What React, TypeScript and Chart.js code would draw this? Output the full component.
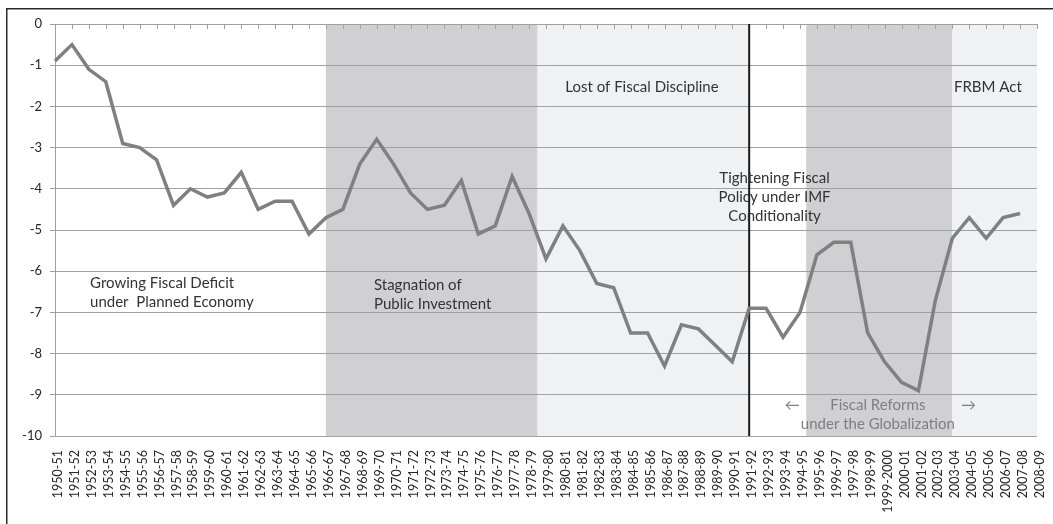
import React, { useEffect, useRef } from 'react';
import { Chart, registerables } from 'chart.js';

Chart.register(...registerables);

const categories = [
  '1950-51', '1951-52', '1952-53', '1953-54', '1954-55', '1955-56', '1956-57', '1957-58', '1958-59', '1959-60',
  '1960-61', '1961-62', '1962-63', '1963-64', '1964-65', '1965-66', '1966-67', '1967-68', '1968-69', '1969-70',
  '1970-71', '1971-72', '1972-73', '1973-74', '1974-75', '1975-76', '1976-77', '1977-78', '1978-79', '1979-80',
  '1980-81', '1981-82', '1982-83', '1983-84', '1984-85', '1985-86', '1986-87', '1987-88', '1988-89', '1989-90',
  '1990-91', '1991-92', '1992-93', '1993-94', '1994-95', '1995-96', '1996-97', '1997-98', '1998-99', '1999-2000',
  '2000-01', '2001-02', '2002-03', '2003-04', '2004-05', '2005-06', '2006-07', '2007-08', '2008-09',
];

const fiscalDeficit: (number | null)[] = [
  -0.9, -0.5, -1.1, -1.4, -2.9, -3.0, -3.3, -4.4, -4.0, -4.2,
  -4.1, -3.6, -4.5, -4.3, -4.3, -5.1, -4.7, -4.5, -3.4, -2.8,
  -3.4, -4.1, -4.5, -4.4, -3.8, -5.1, -4.9, -3.7, -4.6, -5.7,
  -4.9, -5.5, -6.3, -6.4, -7.5, -7.5, -8.3, -7.3, -7.4, -7.8,
  -8.2, -6.9, -6.9, -7.6, -7.0, -5.6, -5.3, -5.3, -7.5, -8.2,
  -8.7, -8.9, -6.7, -5.2, -4.7, -5.2, -4.7, -4.6, null,
];

const yMin = -10;
const yMax = 0;
const yStep = 1;

// Shaded periods, in category-index units
const bandStarts = [16, 28.5, 44.37, 53];
const bandEnds = [28.5, 41, 53, 58];
const bandColors = ['#d0d0d2', '#f0f1f3', '#d0d0d2', '#f0f1f3'];

const breakIndex = 41; // 1991-92

const noteLines = [
  ['Growing Fiscal Deficit', 'under  Planned Economy'],
  ['Stagnation of', 'Public Investment'],
  ['Lost of Fiscal Discipline'],
  ['FRBM Act'],
  ['Tightening Fiscal', 'Policy under IMF', 'Conditionality'],
  ['Fiscal Reforms', 'under the Globalization'],
];
const noteX = [2.07, 18.84, 34.67, 55.1, 42.5, 48.6];
const noteY = [-6.3, -6.33, -1.53, -1.53, -3.75, -9.25];
const noteAlign = ['left', 'left', 'center', 'center', 'center', 'center'];
const noteColor = ['#333333', '#333333', '#333333', '#333333', '#333333', '#7f7f7f'];

const FONT = 'Lato, "Noto Sans", sans-serif';

const decorPlugin = {
  id: 'decor',
  beforeDraw(chart: any) {
    const { ctx, chartArea } = chart;
    const xs = chart.scales.x;
    ctx.save();
    for (let i = 0; i < bandStarts.length; i++) {
      const x1 = xs.getPixelForValue(bandStarts[i]);
      const x2 = xs.getPixelForValue(bandEnds[i]);
      ctx.fillStyle = bandColors[i];
      ctx.fillRect(x1, chartArea.top, x2 - x1, chartArea.bottom - chartArea.top);
    }
    ctx.restore();
  },
  beforeDatasetsDraw(chart: any) {
    const { ctx, chartArea } = chart;
    const xs = chart.scales.x;
    ctx.save();
    ctx.strokeStyle = '#a0a0a0';
    ctx.lineWidth = 1;
    ctx.beginPath();
    for (let i = 0; i < categories.length; i++) {
      const x = Math.round(xs.getPixelForValue(i)) + 0.5;
      ctx.moveTo(x, chartArea.top);
      ctx.lineTo(x, chartArea.top + 5);
    }
    ctx.stroke();
    const bx = xs.getPixelForValue(breakIndex);
    ctx.strokeStyle = '#1a1a1a';
    ctx.lineWidth = 2;
    ctx.beginPath();
    ctx.moveTo(bx, chartArea.top);
    ctx.lineTo(bx, chartArea.bottom);
    ctx.stroke();
    ctx.restore();
  },
  afterDraw(chart: any) {
    const { ctx } = chart;
    const xs = chart.scales.x;
    const ys = chart.scales.y;
    ctx.save();
    ctx.font = `15px ${FONT}`;
    ctx.textBaseline = 'middle';
    for (let n = 0; n < noteLines.length; n++) {
      const x = xs.getPixelForValue(noteX[n]);
      const y0 = ys.getPixelForValue(noteY[n]);
      ctx.fillStyle = noteColor[n];
      ctx.textAlign = noteAlign[n] as CanvasTextAlign;
      noteLines[n].forEach((t, k) => ctx.fillText(t, x, y0 + k * 19));
    }
    const ay = ys.getPixelForValue(noteY[5]);
    ctx.fillStyle = '#7f7f7f';
    ctx.textAlign = 'center';
    ctx.fillText('\u2190', xs.getPixelForValue(43.55), ay);
    ctx.fillText('\u2192', xs.getPixelForValue(53.95), ay);
    ctx.strokeStyle = '#2a2a2a';
    ctx.lineWidth = 1.5;
    ctx.strokeRect(6.75, 8.75, 3000, 3000);
    ctx.restore();
  },
};

export default function App() {
  const ref = useRef<HTMLCanvasElement | null>(null);
  useEffect(() => {
    if (!ref.current) return;
    const chart = new Chart(ref.current, {
      type: 'line',
      data: {
        labels: categories,
        datasets: [
          {
            data: fiscalDeficit,
            borderColor: '#808080',
            borderWidth: 3.5,
            pointRadius: 0,
            tension: 0,
            fill: false,
          },
        ],
      },
      options: {
        animation: false,
        responsive: true,
        maintainAspectRatio: false,
        layout: { padding: { left: 0, top: 24, right: 16, bottom: 0 } },
        plugins: { legend: { display: false }, tooltip: { enabled: false } },
        scales: {
          x: {
            type: 'category',
            offset: false,
            grid: { display: false, drawTicks: false },
            border: { display: false },
            ticks: {
              autoSkip: false,
              maxRotation: 90,
              minRotation: 90,
              padding: 14,
              labelOffset: 3,
              color: '#262626',
              font: { family: FONT, size: 12.5 },
            },
            afterFit: (s: any) => {
              s.height = 88;
              s.paddingLeft = 0;
              s.paddingRight = 0;
            },
          },
          y: {
            min: yMin,
            max: yMax,
            ticks: {
              stepSize: yStep,
              color: '#262626',
              padding: 8,
              font: { family: FONT, size: 13 },
            },
            grid: { color: '#a0a0a0', lineWidth: 1, tickLength: 5 },
            border: { display: true, color: '#a0a0a0', width: 1 },
            afterFit: (s: any) => {
              s.width = 55;
              s.paddingTop = 0;
              s.paddingBottom = 0;
            },
          },
        },
      },
      plugins: [decorPlugin],
    });
    return () => chart.destroy();
  }, []);
  return (
    <div style={{ position: 'absolute', left: 0, top: 0, width: 1053, height: 524, background: '#fff' }}>
      <canvas ref={ref} />
    </div>
  );
}
